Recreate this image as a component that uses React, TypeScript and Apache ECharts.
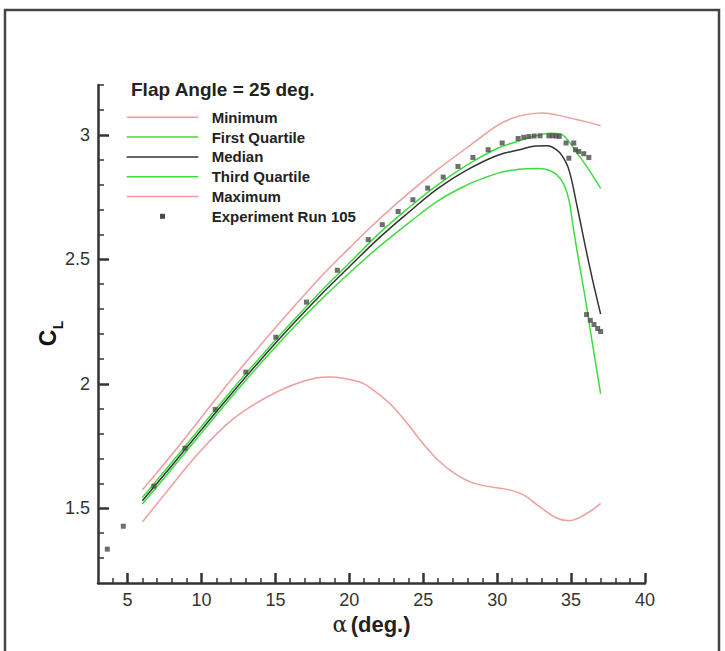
import React, { useEffect, useRef } from "react";
import * as echarts from "echarts";

// ---- data (alpha in deg, CL) ----
const minAlpha = [6, 7.6, 9.84, 12.1, 14.35, 16.6, 18.63, 20.66, 21.55, 22.68, 23.8, 24.93, 26.06, 27.19, 28.3, 29.44, 30.57, 31.69, 32.8, 33.95, 34.85, 35.97, 37];
const minCL = [1.445, 1.563, 1.724, 1.857, 1.944, 2.004, 2.027, 2.008, 1.978, 1.924, 1.85, 1.764, 1.69, 1.637, 1.603, 1.587, 1.577, 1.557, 1.51, 1.463, 1.45, 1.476, 1.52];

const q1Alpha = [6, 8, 10, 12, 14, 16, 18, 20, 22, 24, 26, 28, 29, 30, 31, 32, 32.8, 33.7, 34.4, 34.85, 35.1, 35.4, 35.97, 36.42, 37];
const q1CL = [1.517, 1.659, 1.803, 1.945, 2.082, 2.212, 2.333, 2.445, 2.55, 2.645, 2.735, 2.8, 2.824, 2.845, 2.858, 2.864, 2.865, 2.853, 2.813, 2.74, 2.645, 2.535, 2.34, 2.17, 1.96];

const medAlpha = [6, 8, 10, 12, 14, 16, 18, 20, 22, 24, 26, 28, 30, 31.5, 32.6, 33.4, 34, 34.4, 34.85, 35.4, 35.97, 36.5, 37];
const medCL = [1.53, 1.672, 1.816, 1.958, 2.096, 2.228, 2.353, 2.47, 2.585, 2.688, 2.785, 2.86, 2.917, 2.94, 2.955, 2.956, 2.94, 2.915, 2.86, 2.715, 2.55, 2.405, 2.28];

const q3Alpha = [6, 8, 10, 12, 14, 16, 18, 20, 22, 24, 26, 28, 30, 31.46, 32.6, 33.6, 34.28, 34.85, 35.4, 35.97, 36.5, 37];
const q3CL = [1.543, 1.685, 1.829, 1.971, 2.109, 2.241, 2.367, 2.485, 2.603, 2.706, 2.8, 2.88, 2.945, 2.975, 2.996, 3.006, 3.003, 2.973, 2.927, 2.88, 2.832, 2.785];

const maxAlpha = [6, 8, 10, 12, 14, 16, 18, 20, 22, 24, 26, 28, 29, 30, 31, 32, 33, 34, 35, 36, 37];
const maxCL = [1.574, 1.716, 1.866, 2.015, 2.156, 2.293, 2.425, 2.545, 2.66, 2.765, 2.862, 2.95, 2.995, 3.037, 3.066, 3.082, 3.088, 3.08, 3.066, 3.053, 3.036];

const expAlpha = [3.63, 4.71, 6.78, 8.88, 10.93, 13.0, 15.03, 17.1, 19.19, 21.28, 22.23, 23.3, 24.3, 25.3, 26.35, 27.35, 28.36, 29.39, 30.34, 31.42, 31.8, 32.14, 32.5, 32.9, 33.5, 33.75, 34.0, 34.2, 34.66, 35.18, 34.85, 35.3, 35.52, 35.86, 36.2, 36.05, 36.3, 36.55, 36.8, 37.0];
const expCL = [1.336, 1.428, 1.589, 1.741, 1.897, 2.047, 2.187, 2.328, 2.456, 2.579, 2.639, 2.692, 2.739, 2.786, 2.83, 2.873, 2.909, 2.94, 2.967, 2.985, 2.99, 2.993, 2.995, 2.996, 2.996, 2.996, 2.995, 2.994, 2.967, 2.967, 2.906, 2.94, 2.933, 2.924, 2.909, 2.278, 2.255, 2.238, 2.222, 2.21];

const xMajorTicks = [5, 10, 15, 20, 25, 30, 35, 40];
const xMinorTicks = [4, 6, 7, 8, 9, 11, 12, 13, 14, 16, 17, 18, 19, 21, 22, 23, 24, 26, 27, 28, 29, 31, 32, 33, 34, 36, 37, 38, 39];
const yMajorTicks = [1.5, 2, 2.5, 3];
const yMinorTicks = [1.3, 1.4, 1.6, 1.7, 1.8, 1.9, 2.1, 2.2, 2.3, 2.4, 2.6, 2.7, 2.8, 2.9, 3.1, 3.2];

const legendTitle = "Flap Angle = 25 deg.";
const legendNames = ["Minimum", "First Quartile", "Median", "Third Quartile", "Maximum", "Experiment Run 105"];

const RED = "#ef9d9d";
const GREEN = "#3fdc3f";
const BLACK = "#333333";
const PT = "#4a4a4a";
const FONT = '"Liberation Sans", Arial, Helvetica, sans-serif';

const zip = (a: number[], v: number[]) => a.map((x, i) => [x, v[i]]);

export default function App() {
  const ref = useRef<HTMLDivElement>(null);
  useEffect(() => {
    if (!ref.current) return;
    const chart = echarts.init(ref.current, null, { renderer: "svg" });
    const lineColors = [RED, GREEN, BLACK, GREEN, RED];
    const lineSeries = [
      [minAlpha, minCL],
      [q1Alpha, q1CL],
      [medAlpha, medCL],
      [q3Alpha, q3CL],
      [maxAlpha, maxCL],
    ].map(([a, v], i) => ({
      type: "line",
      name: legendNames[i],
      data: zip(a as number[], v as number[]),
      xAxisIndex: 0,
      yAxisIndex: 0,
      smooth: 0.4,
      symbol: "none",
      lineStyle: { color: lineColors[i], width: 1.5 },
      itemStyle: { color: lineColors[i] },
      z: 2,
    }));

    const legendY0 = 117.3;
    const pitch = 19.8;
    const legendGraphics: any[] = [
      {
        type: "text",
        x: 131,
        y: 89,
        style: { text: legendTitle, font: `bold 19px ${FONT}`, fill: "#222", verticalAlign: "middle" },
      },
    ];
    legendNames.forEach((n, i) => {
      const y = legendY0 + i * pitch;
      if (i < 5) {
        legendGraphics.push({
          type: "line",
          shape: { x1: 126.7, y1: y, x2: 198.3, y2: y },
          style: { stroke: lineColors[i], lineWidth: 1.5 },
        });
      } else {
        legendGraphics.push({
          type: "rect",
          shape: { x: 160, y: y - 2.5, width: 5, height: 5 },
          style: { fill: PT },
        });
      }
      legendGraphics.push({
        type: "text",
        x: 211.7,
        y: y,
        style: { text: n, font: `bold 15px ${FONT}`, fill: "#222", verticalAlign: "middle" },
      });
    });

    const axisLineStyle = { color: BLACK, width: 2.5 };

    chart.setOption({
      animation: false,
      backgroundColor: "#ffffff",
      grid: { left: 98, right: 80, top: 85, bottom: 68, containLabel: false },
      xAxis: [
        {
          type: "value",
          min: 3,
          max: 40,
          position: "bottom",
          axisLine: { onZero: false, lineStyle: axisLineStyle },
          axisTick: { inside: true, length: 10, customValues: xMajorTicks, lineStyle: { color: BLACK, width: 2.5 } },
          axisLabel: { customValues: xMajorTicks, fontSize: 18, color: "#333", margin: 8, fontFamily: FONT },
          splitLine: { show: false },
          name: "{a|α} {b|(deg.)}",
          nameLocation: "middle",
          nameGap: 27,
          nameTextStyle: {
            color: "#222",
            rich: {
              a: { fontFamily: '"DejaVu Serif", serif', fontSize: 22, color: "#222" },
              b: { fontFamily: FONT, fontSize: 22, fontWeight: "bold", color: "#222" },
            },
          },
        },
        {
          type: "value",
          min: 3,
          max: 40,
          position: "bottom",
          offset: 0,
          axisLine: { show: false, onZero: false },
          axisTick: { inside: true, length: 5, customValues: xMinorTicks, lineStyle: { color: BLACK, width: 1.5 } },
          axisLabel: { show: false },
          splitLine: { show: false },
        },
      ],
      yAxis: [
        {
          type: "value",
          min: 1.2,
          max: 3.2,
          position: "left",
          axisLine: { show: true, onZero: false, lineStyle: axisLineStyle },
          axisTick: { show: true, inside: true, length: 11, customValues: yMajorTicks, lineStyle: { color: BLACK, width: 2.5 } },
          axisLabel: { customValues: yMajorTicks, fontSize: 18, color: "#333", margin: 8, fontFamily: FONT },
          splitLine: { show: false },
        },
        {
          type: "value",
          min: 1.2,
          max: 3.2,
          position: "left",
          offset: 0,
          axisLine: { show: false, onZero: false },
          axisTick: { show: true, inside: true, length: 6, customValues: yMinorTicks, lineStyle: { color: BLACK, width: 1.5 } },
          axisLabel: { show: false },
          splitLine: { show: false },
        },
      ],
      series: [
        ...lineSeries,
        {
          type: "scatter",
          name: legendNames[5],
          data: zip(expAlpha, expCL),
          xAxisIndex: 0,
          yAxisIndex: 0,
          symbol: "rect",
          symbolSize: 5,
          itemStyle: { color: PT },
          z: 3,
        },
      ],
      graphic: [
        {
          type: "rect",
          shape: { x: 5, y: 10, width: 714, height: 700 },
          style: { fill: "none", stroke: "#444", lineWidth: 2.5 },
          silent: true,
        },
        {
          type: "text",
          x: 47.5,
          y: 338,
          rotation: Math.PI / 2,
          style: { text: "C", font: `bold 23px ${FONT}`, fill: "#111", align: "center", verticalAlign: "middle" },
        },
        {
          type: "text",
          x: 57.5,
          y: 325,
          rotation: Math.PI / 2,
          style: { text: "L", font: `bold 14px ${FONT}`, fill: "#111", align: "center", verticalAlign: "middle" },
        },
        ...legendGraphics,
      ],
    });
    return () => chart.dispose();
  }, []);
  return <div ref={ref} style={{ position: "absolute", left: 0, top: 0, width: 725, height: 651 }} />;
}
